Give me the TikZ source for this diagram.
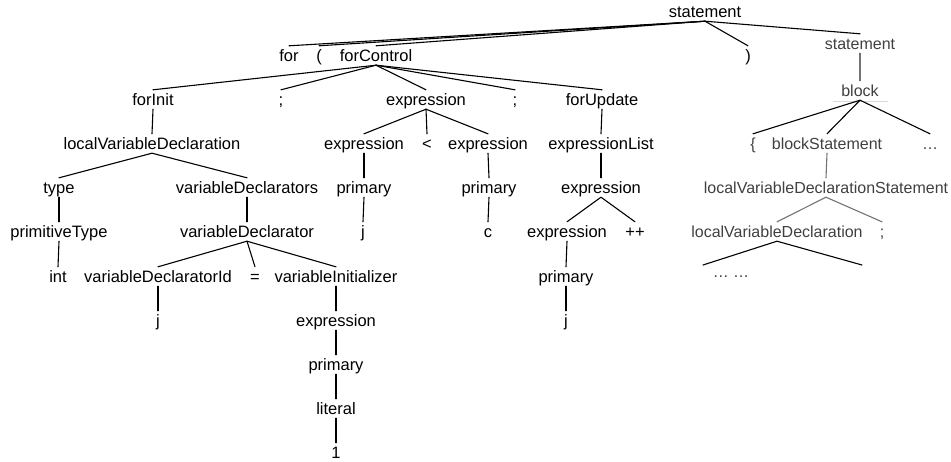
\documentclass[tikz,border=0pt]{standalone}
\usepackage{fontspec}
\setmainfont{Liberation Sans}

\begin{document}
\begin{tikzpicture}[
    x=1pt, y=-1pt,
    tok/.style={font=\fontsize{16.5}{18}\selectfont, anchor=base,
                inner xsep=0pt, inner ysep=3pt, text height=12pt, text depth=1pt},
    greytok/.style={tok, font=\fontsize{16}{18}\selectfont, text=black!75},
    link/.style={line width=1.1pt, line cap=round},
    greylink/.style={link, black!55}
]
\useasboundingbox (0,0) rectangle (951,461);

% Top levels
\node[tok] (root) at (705,17) {statement};
\node[tok] (for) at (289,61) {for};
\node[tok] (lparen) at (319,61) {(};
\node[tok] (forControl) at (376,61) {forControl};
\node[tok] (rparen) at (748,61) {)};
\node[greytok] (body) at (860,49) {statement};
\node[greytok] (block) at (860,96) {block};

% forControl
\node[tok] (forInit) at (153,105) {forInit};
\node[tok] (semiA) at (281,105) {;};
\node[tok] (cond) at (426,105) {expression};
\node[tok] (semiB) at (515,105) {;};
\node[tok] (forUpdate) at (602,105) {forUpdate};

% forInit subtree
\node[tok] (localDecl) at (152,149) {localVariableDeclaration};
\node[tok] (type) at (59,193) {type};
\node[tok] (declarators) at (247,193) {variableDeclarators};
\node[tok] (primType) at (59,237) {primitiveType};
\node[tok] (declarator) at (247,237) {variableDeclarator};
\node[tok] (int) at (58,282) {int};
\node[tok] (declId) at (158,282) {variableDeclaratorId};
\node[tok] (assign) at (255,282) {=};
\node[tok] (init) at (336,282) {variableInitializer};
\node[tok] (idJ) at (158,326) {j};
\node[tok] (initExpr) at (336,326) {expression};
\node[tok] (initPrim) at (336,370) {primary};
\node[tok] (literal) at (336,414) {literal};
\node[tok] (one) at (336,458) {1};

% condition subtree
\node[tok] (condLeft) at (364,149) {expression};
\node[tok] (less) at (427,149) {<};
\node[tok] (condRight) at (488,149) {expression};
\node[tok] (primLeft) at (364,193) {primary};
\node[tok] (primRight) at (489,193) {primary};
\node[tok] (condJ) at (363,237) {j};
\node[tok] (condC) at (488,237) {c};

% forUpdate subtree
\node[tok] (exprList) at (601,149) {expressionList};
\node[tok] (updExpr) at (601,193) {expression};
\node[tok] (incExpr) at (567,237) {expression};
\node[tok] (incOp) at (635,237) {++};
\node[tok] (incPrim) at (566,282) {primary};
\node[tok] (incJ) at (566,326) {j};

% block subtree
\node[greytok] (lbrace) at (753,149) {\{};
\node[greytok] (blockStmt) at (827,149) {blockStatement};
\node[greytok] (blockMore) at (930,149) {\ldots};
\node[greytok] (localStmt) at (826,193) {localVariableDeclarationStatement};
\node[greytok] (localDecl2) at (777,237) {localVariableDeclaration};
\node[greytok] (semiC) at (882,237) {;};
\node[greytok] (elided) at (731,277) {\ldots\ \ldots};
\coordinate (elideL) at (703,265);
\coordinate (elideR) at (862,265);

\draw[link] (root.south) -- (for.north);
\draw[link] (root.south) -- (lparen.north);
\draw[link] (root.south) -- (forControl.north);
\draw[link] (root.south) -- (rparen.north);
\draw[link] (root.south) -- (body.north);
\draw[greylink] (body.south) -- (block.north);
\draw[black!15, line width=0.6pt] ([xshift=-27pt, yshift=-1pt]block.south) -- ([xshift=28pt, yshift=-1pt]block.south);

\draw[link] (forControl.south) -- (forInit.north);
\draw[link] (forControl.south) -- (semiA.north);
\draw[link] (forControl.south) -- (cond.north);
\draw[link] (forControl.south) -- (semiB.north);
\draw[link] (forControl.south) -- (forUpdate.north);

\draw[link] (forInit.south) -- (localDecl.north);
\draw[link] (localDecl.south) -- (type.north);
\draw[link] (localDecl.south) -- (declarators.north);
\draw[link] (type.south) -- (primType.north);
\draw[link] (primType.south) -- (int.north);
\draw[link] (declarators.south) -- (declarator.north);
\draw[link] (declarator.south) -- (declId.north);
\draw[link] (declarator.south) -- (assign.north);
\draw[link] (declarator.south) -- (init.north);
\draw[link] (declId.south) -- (idJ.north);
\draw[link] (init.south) -- (initExpr.north);
\draw[link] (initExpr.south) -- (initPrim.north);
\draw[link] (initPrim.south) -- (literal.north);
\draw[link] (literal.south) -- (one.north);

\draw[link] (cond.south) -- (condLeft.north);
\draw[link] (cond.south) -- (less.north);
\draw[link] (cond.south) -- (condRight.north);
\draw[link] (condLeft.south) -- (primLeft.north);
\draw[link] (condRight.south) -- (primRight.north);
\draw[link] (primLeft.south) -- (condJ.north);
\draw[link] (primRight.south) -- (condC.north);

\draw[link] (forUpdate.south) -- (exprList.north);
\draw[link] (exprList.south) -- (updExpr.north);
\draw[link] (updExpr.south) -- (incExpr.north);
\draw[link] (updExpr.south) -- (incOp.north);
\draw[link] (incExpr.south) -- (incPrim.north);
\draw[link] (incPrim.south) -- (incJ.north);

\draw[link] (block.south) -- (lbrace.north);
\draw[link] (block.south) -- (blockStmt.north);
\draw[link] (block.south) -- (blockMore.north);
\draw[greylink] (blockStmt.south) -- (localStmt.north);
\draw[greylink] (localStmt.south) -- (localDecl2.north);
\draw[greylink] (localStmt.south) -- (semiC.north);
\draw[link] (localDecl2.south) -- (elideL);
\draw[link] (localDecl2.south) -- (elideR);

\end{tikzpicture}
\end{document}
